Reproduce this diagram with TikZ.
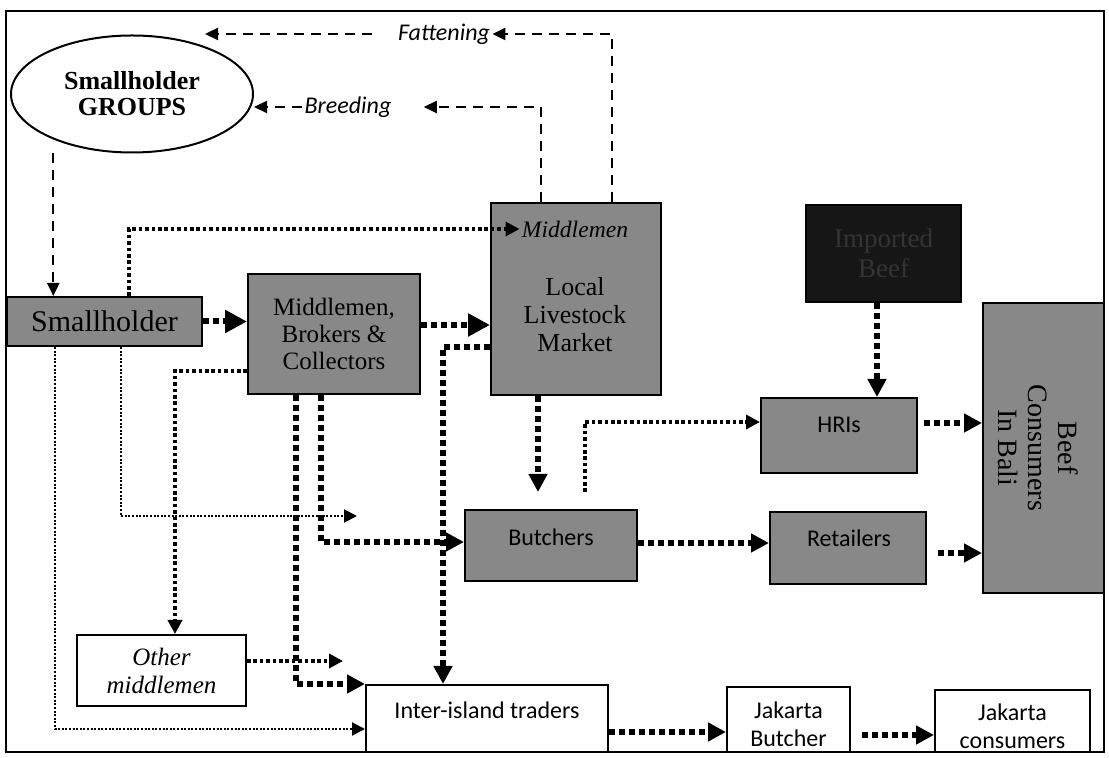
\documentclass[tikz,border=0pt]{standalone}
\usepackage{fontspec}
\setmainfont{Liberation Serif}
\newfontfamily\carl{Carlito}
\usetikzlibrary{arrows.meta,shapes.geometric}
\definecolor{boxgray}{RGB}{136,136,136}
\definecolor{impblack}{RGB}{22,22,22}
\definecolor{imptext}{RGB}{52,52,52}
\tikzset{
  gbox/.style={draw=black, line width=1pt, fill=boxgray, inner sep=0pt, align=center},
  wbox/.style={draw=black, line width=1pt, fill=white, inner sep=0pt, align=center},
  lbl/.style={inner sep=1pt, align=center},
  sansf/.style={font=\carl\fontsize{12}{14}\selectfont},
  thk/.style={line width=3pt, dash pattern=on 3pt off 2pt, -{Triangle[length=9pt,width=9pt]}},
  thkbig/.style={line width=3pt, dash pattern=on 3pt off 2pt, -{Triangle[length=11pt,width=11pt]}},
  med/.style={line width=1.8pt, dash pattern=on 1.8pt off 1.4pt, -{Triangle[length=7pt,width=7pt]}},
  thn/.style={line width=1pt, dash pattern=on 1pt off 0.8pt, -{Triangle[length=6.5pt,width=6.5pt]}},
  dsh/.style={line width=1.1pt, dash pattern=on 5pt off 3.5pt, -{Triangle[length=6.5pt,width=6pt]}},
}
\begin{document}
\begin{tikzpicture}[x=0.5pt,y=-0.5pt]
\useasboundingbox (0,0) rectangle (1109,758);
\fill[white] (0,0) rectangle (1109,758);
\draw[line width=1pt] (6,11) rectangle (1104,752);

% nodes
\node[draw=black, line width=1pt, fill=white, ellipse, inner sep=0pt, minimum width=121pt, minimum height=58.5pt, align=center,
      font=\bfseries\fontsize{13}{13}\selectfont] (groups) at (132,94) {Smallholder\\GROUPS};
\node[gbox, minimum width=97.5pt, minimum height=24.5pt, font=\fontsize{15}{16}\selectfont] (sh) at (104.5,321.5) {Smallholder};
\node[gbox, minimum width=86pt, minimum height=60pt, font=\fontsize{12.5}{13.5}\selectfont] (mbc) at (334,334) {Middlemen,\\Brokers \&\\Collectors};
\node[gbox, minimum width=85pt, minimum height=96pt] (llm) at (576,299) {};
\node[lbl, font=\fontsize{13}{14}\selectfont] (llmtext) at (575,315) {Local\\Livestock\\Market};
\node[lbl, font=\itshape\fontsize{11.8}{13}\selectfont] (mid) at (575,229) {Middlemen};
\node[draw=black, line width=1pt, fill=impblack, inner sep=0pt, align=center, minimum width=77.5pt, minimum height=48.5pt,
      text=imptext, font=\fontsize{13.5}{15}\selectfont] (imp) at (883.5,253.5) {Imported\\Beef};
\node[gbox, minimum width=78pt, minimum height=37.5pt] (hri) at (839,435.5) {};
\node[lbl, sansf] (hritext) at (839,425) {HRIs};
\node[gbox, minimum width=60.5pt, minimum height=145pt] (cons) at (1043.5,448) {};
\node[lbl, rotate=-90, font=\fontsize{14}{15}\selectfont] (constext) at (1038,448) {Beef\\Consumers\\In Bali};
\node[gbox, minimum width=86pt, minimum height=35.5pt] (but) at (551,545.5) {};
\node[lbl, sansf] (buttext) at (551,537) {Butchers};
\node[gbox, minimum width=78pt, minimum height=36pt] (ret) at (848,548) {};
\node[lbl, sansf] (rettext) at (849,538) {Retailers};
\node[wbox, minimum width=84.5pt, minimum height=35.5pt, font=\itshape\fontsize{12.5}{14}\selectfont] (oth) at (161.5,670.5) {Other\\middlemen};
\node[wbox, minimum width=121pt, minimum height=33.5pt] (iit) at (487,718.5) {};
\node[lbl, sansf] (iittext) at (487,710) {Inter-island traders};
\node[wbox, minimum width=61.5pt, minimum height=32.5pt] (jb) at (788.5,719.5) {};
\node[lbl, sansf] (jbtext) at (788.5,724) {Jakarta\\Butcher};
\node[wbox, minimum width=77.5pt, minimum height=31pt] (jc) at (1012.5,721) {};
\node[lbl, sansf] (jctext) at (1012.5,726) {Jakarta\\consumers};

\node[lbl, font=\carl\itshape\fontsize{12}{14}\selectfont] (fat) at (444,34) {Fattening};
\node[lbl, font=\carl\itshape\fontsize{12}{14}\selectfont] (bre) at (348,107) {Breeding};
\coordinate (fatend) at (205,34);
\coordinate (othend) at (343,661);
\coordinate (shend) at (357,516);

% dashed feedback
\draw[dsh] ([xshift=18pt]llm.north) |- (fat.east);
\draw[dsh] ([xshift=-12pt]fat.west) -- (fatend);
\draw[dsh] ([xshift=-17.5pt]llm.north) |- ([xshift=15pt]bre.east);
\draw[dsh] (bre.west) -- (groups.east |- bre.west);
\draw[dsh, shorten <=7pt] (groups.210) -- (groups.210 |- sh.north);

% main flow
\draw[thkbig] (sh.east) -- (sh.east -| mbc.west);
\draw[thkbig] ([yshift=4.5pt]mbc.east) -- ([yshift=4.5pt]mbc.east -| llm.west);
\draw[med] ([xshift=12.25pt]sh.north) |- (mid.west);
\draw[thk, shorten >=8.5pt] ([xshift=-19pt]llm.south) -- ([xshift=-19pt]llm.south |- but.north);
\draw[med] ([xshift=17pt,yshift=8.5pt]but.north) |- ([yshift=6.75pt]hri.west);
\draw[thk] ([xshift=-3.25pt]imp.south) -- ([xshift=-3.25pt]imp.south |- hri.north);
\draw[thk, shorten <=3pt] ([yshift=6.25pt]hri.east) -- ([yshift=6.25pt]hri.east -| cons.west);
\draw[thk, shorten <=5.5pt] ([yshift=-2.5pt]ret.east) -- ([yshift=-2.5pt]ret.east -| cons.west);
\draw[thk] ([yshift=1.25pt]but.east) -- ([yshift=1.25pt]but.east -| ret.west);
\draw[thk] ([xshift=-6.5pt]mbc.south) |- ([yshift=1.75pt]but.west);
\draw[thk] ([xshift=-19pt]mbc.south) |- (iit.north west);
\draw[med] ([yshift=-18.5pt]mbc.west) -| ([xshift=6.75pt]oth.north);
\draw[med] ([yshift=4.75pt]oth.east) -- (othend);
\draw[thn] ([xshift=8.25pt]sh.south) |- (shend);
\draw[thn] ([xshift=-24.75pt]sh.south) |- ([yshift=-5.25pt]iit.west);
\draw[thk] ([yshift=-24pt]llm.west) -| ([xshift=-22pt]iit.north);
\draw[thk] ([yshift=-6.75pt]iit.east) -- ([yshift=-6.75pt]iit.east -| jb.west);
\draw[thk, shorten <=5.5pt] ([yshift=-7.75pt]jb.east) -- ([yshift=-7.75pt]jb.east -| jc.west);
\end{tikzpicture}
\end{document}
